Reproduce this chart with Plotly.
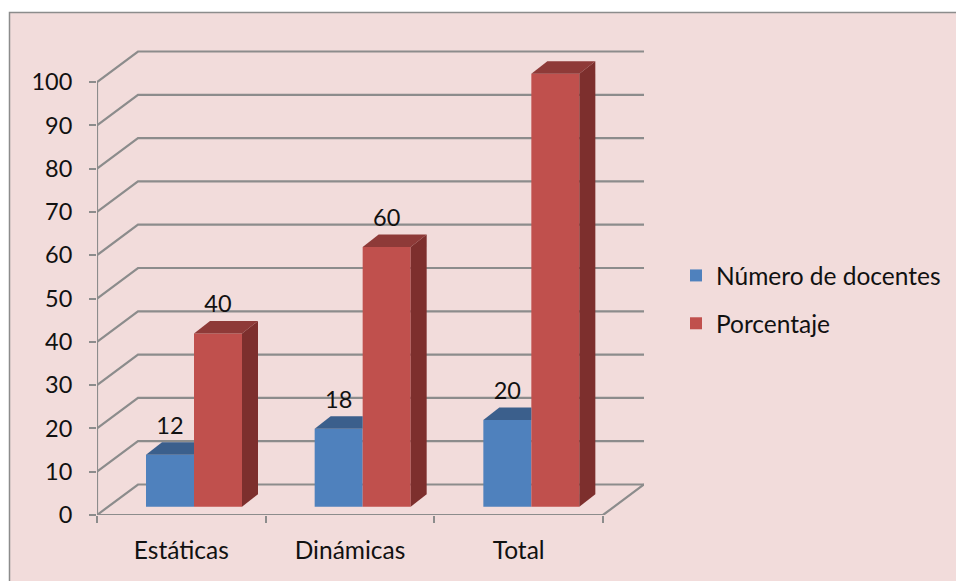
import plotly.graph_objects as go

categories = ["Estáticas", "Dinámicas", "Total"]
docentes = [12, 18, 20]
porcentaje = [40, 60, 100]
y_ticks = [0, 10, 20, 30, 40, 50, 60, 70, 80, 90, 100]

W, H = 956, 581
L, R, T, B = 97, 644, 50, 515
PX_Y = 4.33
PX_X = 168.67
Y_TOP = (B - T) / PX_Y
WALL_DX = 41 / PX_X
WALL_DY = 30.5 / PX_Y
X_TOP = (R - L) / PX_X
BAR_W = 48 / PX_X
BAR_BASE = 8.3 / PX_Y
BAR_START = (146 - 97) / PX_X
DEPTH_X = 16 / PX_X
DEPTH_Y = 12.5 / PX_Y
LABEL_UP = 27 / PX_Y

GRID = "#8C8C8C"
FONT = dict(family="Lato", size=24.5, color="#111111")
NUM_FONT = dict(family="Lato", size=23.5, color="#111111")
BLUE, BLUE_TOP = "#4F81BD", "#3B5F8C"
RED, RED_TOP, RED_SIDE = "#C0504D", "#8E3A38", "#7D2F2D"

fig = go.Figure()
centers = [i + BAR_START + BAR_W / 2 for i in range(3)]
centers2 = [i + BAR_START + 1.5 * BAR_W for i in range(3)]

fig.add_trace(go.Bar(name="Número de docentes", legendgroup="a", x=centers, y=docentes, base=BAR_BASE,
                     width=BAR_W, marker=dict(color=BLUE, line=dict(width=0))))
fig.add_trace(go.Bar(name="Porcentaje", legendgroup="b", x=centers2, y=porcentaje, base=BAR_BASE,
                     width=BAR_W, marker=dict(color=RED, line=dict(width=0))))


def poly(xs, ys, color):
    fig.add_trace(go.Scatter(x=xs, y=ys, mode="lines", fill="toself", fillcolor=color,
                             line=dict(width=0, color=color), showlegend=False, hoverinfo="skip"))


for c, v in zip(centers, docentes):
    l, r, t = c - BAR_W / 2, c + BAR_W / 2, v + BAR_BASE
    poly([l, l + DEPTH_X, r, r, l], [t, t + DEPTH_Y, t + DEPTH_Y, t, t], BLUE_TOP)
for c, v in zip(centers2, porcentaje):
    l, r, t, b = c - BAR_W / 2, c + BAR_W / 2, v + BAR_BASE, BAR_BASE
    poly([l, l + DEPTH_X, r + DEPTH_X, r, l], [t, t + DEPTH_Y, t + DEPTH_Y, t, t], RED_TOP)
    poly([r, r + DEPTH_X, r + DEPTH_X, r, r], [t, t + DEPTH_Y, b + DEPTH_Y, b, t], RED_SIDE)

for cs, vs in ((centers, docentes), (centers2, porcentaje)):
    fig.add_trace(go.Scatter(x=cs, y=[v + BAR_BASE + LABEL_UP for v in vs], mode="text",
                             text=[str(v) for v in vs], textfont=NUM_FONT, textposition="middle center",
                             cliponaxis=False, showlegend=False, hoverinfo="skip"))

fx = lambda p: (p - L) / (R - L)
fy = lambda p: (B - p) / (B - T)
shapes = [
    dict(type="rect", xref="paper", yref="paper", layer="below",
         x0=fx(9.5), x1=fx(W + 5), y0=fy(H + 5), y1=fy(12.5),
         fillcolor="#F2DCDB", line=dict(width=0)),
    dict(type="path", xref="paper", yref="paper", layer="below",
         path=f"M {fx(9.5)} {fy(H + 5)} L {fx(9.5)} {fy(12.5)} L {fx(W + 5)} {fy(12.5)}",
         line=dict(color=GRID, width=1.5)),
]
for v in y_ticks:
    shapes.append(dict(type="path", xref="x", yref="y", layer="below",
                       path=f"M 0 {v} L {WALL_DX} {v + WALL_DY} L {X_TOP} {v + WALL_DY}",
                       line=dict(color=GRID, width=2.2)))
shapes.append(dict(type="path", xref="x", yref="y", layer="below",
                   path=f"M 0 {y_ticks[-1]} L 0 0 L 3 0 L {X_TOP} {WALL_DY}",
                   line=dict(color=GRID, width=2.2)))

fig.update_layout(
    width=W, height=H, margin=dict(l=L, r=W - R, t=T, b=H - B, pad=0),
    paper_bgcolor="white", plot_bgcolor="rgba(0,0,0,0)", barmode="overlay",
    shapes=shapes, hovermode=False,
    font=FONT,
    legend=dict(xref="container", yref="container", x=676 / W, y=(H - 253) / H,
                xanchor="left", yanchor="top",
                bgcolor="rgba(0,0,0,0)", font=FONT, tracegroupgap=13, itemwidth=30),
    xaxis=dict(range=[0, X_TOP], tickmode="array", tickvals=[0.5, 1.5, 2.5], ticktext=categories,
               ticks="", showgrid=False, zeroline=False, showline=False, tickfont=FONT,
               ticklabelstandoff=18,
               minor=dict(tickmode="array", tickvals=[0, 1, 2, 3], ticks="outside", ticklen=7,
                          tickwidth=2, tickcolor=GRID, showgrid=False)),
    yaxis=dict(range=[0, Y_TOP], tickmode="array", tickvals=y_ticks, ticks="outside", ticklen=7,
               tickwidth=2, tickcolor=GRID, showgrid=False, zeroline=False, showline=False,
               tickfont=NUM_FONT, ticklabelstandoff=12),
)
fig.write_html("out.html", config={"displayModeBar": False},
               post_script="document.body.style.margin='0';")
